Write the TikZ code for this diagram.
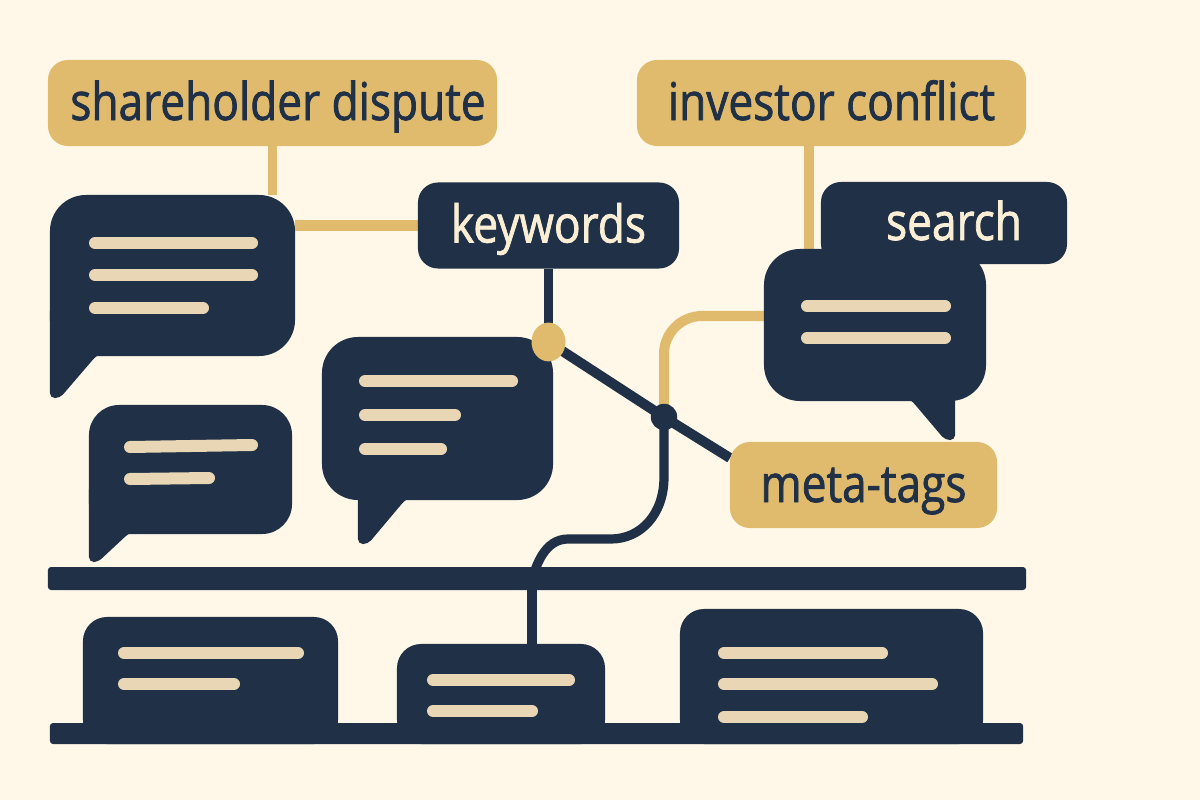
\documentclass[tikz,border=0pt]{standalone}
\usepackage{fontspec}
\setmainfont[FakeStretch=0.85,FakeBold=1.4]{Open Sans}
\usetikzlibrary{backgrounds, shapes.geometric}
\definecolor{paper}{RGB}{255,248,232}
\definecolor{navy}{RGB}{31,48,71}
\definecolor{gold}{RGB}{224,187,110}
\definecolor{cream}{RGB}{250,238,212}
\definecolor{barcream}{RGB}{232,214,180}
\tikzstyle{tagbox} = [rectangle, rounded corners=0.5cm, inner sep=0, outer sep=0, minimum height=2.15cm, text height=1cm, text depth=0.15cm, font=\fontsize{37}{40}\selectfont]
\tikzstyle{goldtag} = [tagbox, fill=gold, text=navy]
\tikzstyle{navytag} = [tagbox, fill=navy, text=cream]
\tikzstyle{bubble} = [rectangle, rounded corners=0.9cm, inner sep=0, outer sep=0, fill=navy]
\tikzstyle{card} = [rectangle, rounded corners=0.6cm, inner sep=0, outer sep=0, fill=navy]
\tikzstyle{shelf} = [rectangle, rounded corners=0.08cm, inner sep=0, outer sep=0, fill=navy]
\tikzstyle{tail} = [fill=navy, rounded corners=0.12cm]
\tikzstyle{textbar} = [barcream, line width=0.3cm, line cap=round]
\tikzstyle{goldlink} = [gold, line width=0.24cm]
\tikzstyle{navylink} = [navy, line width=0.23cm]

\begin{document}
\begin{tikzpicture}[x=0.025cm, y=-0.025cm]

\path [use as bounding box] (0,0) rectangle (1200,800);

% Labels
\node (shareholder) [goldtag, minimum width=11.225cm] at (272.5,103) {\hspace*{0.275cm}shareholder dispute};
\node (investor) [goldtag, minimum width=9.725cm] at (831.5,103) {investor conflict};
\node (keywords) [navytag, minimum width=6.525cm] at (548.5,225.5) {keywords};
\node (search) [navytag, minimum width=6.15cm, minimum height=2.05cm] at (944,223) {\hspace*{0.5cm}search};
\node (metatags) [goldtag, minimum width=6.675cm] at (863.5,485) {meta-tags};

% Speech bubbles
\node (bubbleA) [bubble, minimum width=6.125cm, minimum height=4.025cm] at (172.5,275.5) {};
\fill [tail] (bubbleA.south west) ++(0,-50) -- ++(0,92) -- ++(10,0) -- (96,356) -- ++(40,-20) -- cycle;
\node (bubbleB) [bubble, rounded corners=0.75cm, minimum width=5.075cm, minimum height=3.225cm] at (190.5,469.5) {};
\fill [tail] (bubbleB.south west) ++(0,-50) -- ++(0,78) -- ++(9,0) -- (128,534) -- ++(40,-20) -- cycle;
\node (bubbleC) [bubble, minimum width=5.775cm, minimum height=4.075cm] at (437.5,418.5) {};
\fill [tail] (bubbleC.south west) ++(36,-30) -- ++(0,74) -- ++(10,0) -- (405,500) -- ++(40,-20) -- cycle;
\node (bubbleD) [bubble, minimum width=5.55cm, minimum height=3.8cm] at (875,325) {};
\fill [tail] (bubbleD.south east) ++(-31,-30) -- ++(0,69) -- ++(-10,0) -- (912,401) -- ++(-30,-20) -- cycle;

% Shelves and cards
\node (shelfA) [shelf, minimum width=24.45cm, minimum height=0.575cm] at (537,578.5) {};
\node (shelfB) [shelf, minimum width=24.325cm, minimum height=0.525cm] at (536.5,733.5) {};
\node (cardA) [card, minimum width=6.375cm, minimum height=3.175cm] at (210.5,680.5) {};
\node (cardB) [card, minimum width=5.2cm, minimum height=2.5cm] at (501,694) {};
\node (cardC) [card, minimum width=7.575cm, minimum height=3.375cm] at (831.5,676.5) {};

% Text bars
\draw [textbar] (95,243) -- (252,243);
\draw [textbar] (95,275) -- (252,275);
\draw [textbar] (95,308) -- (203,308);
\draw [textbar] (130,447) -- (252,445);
\draw [textbar] (130,479) -- (209,478);
\draw [textbar] (365,381) -- (512,381);
\draw [textbar] (365,415) -- (455,415);
\draw [textbar] (365,449) -- (441,449);
\draw [textbar] (807,306) -- (945,306);
\draw [textbar] (807,338) -- (945,338);
\draw [textbar] (124,653) -- (298,653);
\draw [textbar] (124,684) -- (234,684);
\draw [textbar] (433,680) -- (569,680);
\draw [textbar] (433,711) -- (532,711);
\draw [textbar] (724,653) -- (882,653);
\draw [textbar] (724,684) -- (932,684);
\draw [textbar] (724,717) -- (862,717);

% Joints
\node (golddot) [ellipse, fill=gold, inner sep=0, minimum width=0.85cm, minimum height=0.97cm] at (548.5,342) {};
\node (hub) [circle, fill=navy, inner sep=0, minimum size=0.66cm] at (664,417) {};
\coordinate (bendA) at (611,539);
\coordinate (bendB) at (568,539);
\coordinate (shelfjoin) at (532,579);

% Connectors
\begin{scope}[on background layer]
\fill [paper] (0,0) rectangle (1200,800);
\draw [goldlink] (shareholder.south) -- (shareholder.south |- bubbleA.north);
\draw [goldlink, line width=0.25cm] (keywords.west) -- (keywords.west -| bubbleA.east);
\draw [goldlink] ([xshift=-0.56cm]investor.south) -- ([xshift=-0.56cm]investor.south |- bubbleD.north);
\draw [goldlink, line width=0.25cm, rounded corners=0.95cm] ([yshift=0.225cm]bubbleD.west) -| (hub.center);
\draw [navylink] (keywords.south) -- (golddot.center);
\draw [navylink, line width=0.25cm] (golddot.center) -- (hub.center) -- ([yshift=-0.4cm]metatags.north west);
\draw [navylink] (hub.center) -- ++(0,60) .. controls +(0,38) and +(29,0) .. (bendA) -- (bendB) .. controls +(-24,0) and +(4,-12) .. (shelfjoin);
\draw [navylink] (shelfjoin) -- (shelfjoin |- cardB.north);
\end{scope}

\end{tikzpicture}
\end{document}
